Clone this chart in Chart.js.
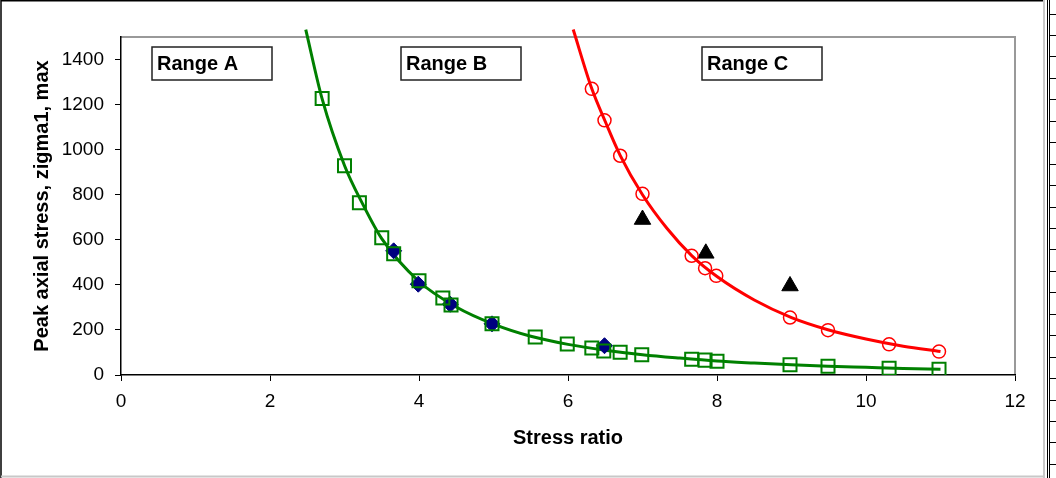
<!DOCTYPE html>
<html>
<head>
<meta charset="utf-8">
<script src="https://cdn.jsdelivr.net/npm/chart.js@4/dist/chart.umd.min.js"></script>
<style>
  html, body { margin: 0; padding: 0; background: #fff; }
  #wrap { width: 1056px; height: 478px; }
</style>
</head>
<body>
<div id="wrap"><canvas id="chart" width="1056" height="478"></canvas></div>
<script>
// values
var squareX = [2.7, 3.0, 3.2, 3.5, 3.66, 4.0, 4.32, 4.43, 4.98, 5.56, 5.99, 6.32, 6.48, 6.7, 6.99, 7.66, 7.84, 8.0, 8.98, 9.49, 10.31, 10.98];
var squareY = [1227, 929, 764, 609, 538, 418, 342, 311, 227, 169, 138, 120, 107, 101, 90, 70, 66, 61, 46, 39, 30, 25];

var diamondX = [3.66, 3.99, 4.42, 4.98, 6.49];
var diamondY = [551, 403, 314, 227, 130];

var triangleX = [7.0, 7.85, 8.98];
var triangleY = [690, 540, 395];

var circleX = [6.32, 6.49, 6.7, 7.0, 7.66, 7.84, 7.99, 8.98, 9.49, 10.31, 10.98];
var circleY = [1270, 1130, 973, 804, 529, 474, 440, 255, 199, 136, 104];

// trend lines
var greenFitX = [2.48, 2.7, 3.0, 3.25, 3.5, 4.0, 4.5, 5.0, 5.5, 6.0, 6.5, 7.0, 7.5, 8.0, 8.5, 9.0, 9.5, 10.0, 10.5, 11.0];
var greenFitY = [1533, 1225, 930, 755, 605, 415, 302, 226, 172, 136, 110, 90, 75, 62, 53, 45, 39, 34, 29, 25];

var redFitX = [6.07, 6.32, 6.5, 6.7, 7.0, 7.33, 7.66, 8.0, 8.5, 9.0, 9.5, 10.0, 10.5, 11.0];
var redFitY = [1533, 1270, 1125, 975, 800, 650, 530, 437, 333, 255, 200, 160, 128, 104];

var rangeLabels = ['Range A', 'Range B', 'Range C'];

var fontName = "'Liberation Sans', Arial, sans-serif";

function toPoints(xs, ys) {
    return xs.map((x, i) => ({ x: x, y: ys[i] }));
}

// spreadsheet frame around the chart object + gray plot box
var framePlugin = {
    id: 'frame',
    beforeDraw(chart) {
        const ctx = chart.ctx;
        ctx.save();
        ctx.fillStyle = '#fff';
        ctx.fillRect(0, 0, chart.width, chart.height);

        ctx.strokeStyle = '#000';
        ctx.lineWidth = 1.5;
        ctx.beginPath();
        ctx.moveTo(1, 478); ctx.lineTo(1, 0.75); ctx.lineTo(1044, 0.75);
        ctx.stroke();

        ctx.strokeStyle = '#c8c8c8';
        ctx.lineWidth = 2;
        ctx.beginPath();
        ctx.moveTo(1, 476.5); ctx.lineTo(1044, 476.5);
        ctx.moveTo(1044, 0); ctx.lineTo(1044, 478);
        ctx.stroke();

        // cells peeking out on the right
        ctx.strokeStyle = '#000';
        ctx.lineWidth = 1;
        ctx.beginPath();
        ctx.moveTo(1047.5, 0); ctx.lineTo(1047.5, 478);
        ctx.moveTo(1049.5, 0); ctx.lineTo(1049.5, 478);
        for (let y = 13.5; y < 478; y += 21.45) {
            ctx.moveTo(1049.5, Math.round(y) + 0.5);
            ctx.lineTo(1056, Math.round(y) + 0.5);
        }
        ctx.stroke();

        const a = chart.chartArea;
        ctx.strokeStyle = '#999';
        ctx.lineWidth = 2;
        ctx.beginPath();
        ctx.moveTo(a.left, a.top);
        ctx.lineTo(a.right, a.top);
        ctx.lineTo(a.right, a.bottom);
        ctx.stroke();
        ctx.restore();
    },
    afterDraw(chart) {
        const ctx = chart.ctx;
        const xs = chart.scales.x;
        const ys = chart.scales.y;
        const at = [0.42, 3.76, 7.8];
        ctx.save();
        ctx.font = 'bold 20px ' + fontName;
        ctx.textBaseline = 'middle';
        ctx.strokeStyle = '#222';
        ctx.lineWidth = 1.5;
        rangeLabels.forEach((txt, i) => {
            const left = Math.round(xs.getPixelForValue(at[i]));
            const top = Math.round(ys.getPixelForValue(1455));
            ctx.fillStyle = '#fff';
            ctx.fillRect(left, top, 120, 33);
            ctx.strokeRect(left, top, 120, 33);
            ctx.fillStyle = '#000';
            ctx.fillText(txt, left + 5, top + 17);
        });
        ctx.restore();
    }
};

var ctx = document.getElementById('chart').getContext('2d');
var myChart = new Chart(ctx, {
    type: 'scatter',
    data: {
        datasets: [
            {
                label: 'green fit',
                data: toPoints(greenFitX, greenFitY),
                showLine: true,
                borderColor: '#008000',
                borderWidth: 3,
                pointRadius: 0,
                cubicInterpolationMode: 'monotone',
                clip: { left: 0, top: 8, right: 0, bottom: 0 },
                order: 3
            },
            {
                label: 'red fit',
                data: toPoints(redFitX, redFitY),
                showLine: true,
                borderColor: '#ff0000',
                borderWidth: 3,
                pointRadius: 0,
                cubicInterpolationMode: 'monotone',
                clip: { left: 0, top: 8, right: 0, bottom: 0 },
                order: 3
            },
            {
                label: 'diamonds',
                data: toPoints(diamondX, diamondY),
                pointStyle: 'rectRot',
                pointRadius: 8,
                backgroundColor: '#000080',
                borderColor: '#000080',
                borderWidth: 1,
                order: 2
            },
            {
                label: 'squares',
                data: toPoints(squareX, squareY),
                pointStyle: 'rect',
                pointRadius: 9.2,
                backgroundColor: 'rgba(0,0,0,0)',
                borderColor: '#008000',
                borderWidth: 2,
                order: 1
            },
            {
                label: 'circles',
                data: toPoints(circleX, circleY),
                pointStyle: 'circle',
                pointRadius: 6.5,
                backgroundColor: 'rgba(0,0,0,0)',
                borderColor: '#ff0000',
                borderWidth: 1.5,
                order: 1
            },
            {
                label: 'triangles',
                data: toPoints(triangleX, triangleY),
                pointStyle: 'triangle',
                pointRadius: 9.5,
                backgroundColor: '#000',
                borderColor: '#000',
                borderWidth: 1,
                order: 1
            }
        ]
    },
    options: {
        responsive: false,
        animation: false,
        events: [],
        layout: { padding: { left: 0, right: 41, top: 37, bottom: 0 } },
        plugins: {
            legend: { display: false },
            tooltip: { enabled: false }
        },
        scales: {
            x: {
                type: 'linear',
                min: 0,
                max: 12,
                ticks: {
                    stepSize: 2,
                    padding: 9,
                    color: '#000',
                    font: { family: fontName, size: 19 },
                    callback: v => String(v)
                },
                grid: { drawOnChartArea: false, drawTicks: true, tickLength: 6, color: '#000' },
                border: { color: '#000', width: 1.5 },
                title: {
                    display: true,
                    text: 'Stress ratio',
                    color: '#000',
                    font: { family: fontName, size: 20, weight: 'bold' },
                    padding: { top: 0, bottom: 28 }
                },
                afterFit(scale) { scale.height = 103; }
            },
            y: {
                type: 'linear',
                min: 0,
                max: 1500,
                ticks: {
                    stepSize: 200,
                    padding: 11,
                    color: '#000',
                    font: { family: fontName, size: 19 },
                    callback: v => String(v)
                },
                afterBuildTicks(scale) {
                    scale.ticks = scale.ticks.filter(t => t.value <= 1400);
                },
                grid: { drawOnChartArea: false, drawTicks: true, tickLength: 6, color: '#000' },
                border: { color: '#000', width: 1.5 },
                title: {
                    display: true,
                    text: 'Peak axial stress, zigma1, max',
                    color: '#000',
                    font: { family: fontName, size: 20, weight: 'bold' },
                    padding: { top: 30, bottom: 0 }
                },
                afterFit(scale) { scale.width = 121; }
            }
        }
    },
    plugins: [framePlugin]
});
</script>
</body>
</html>
